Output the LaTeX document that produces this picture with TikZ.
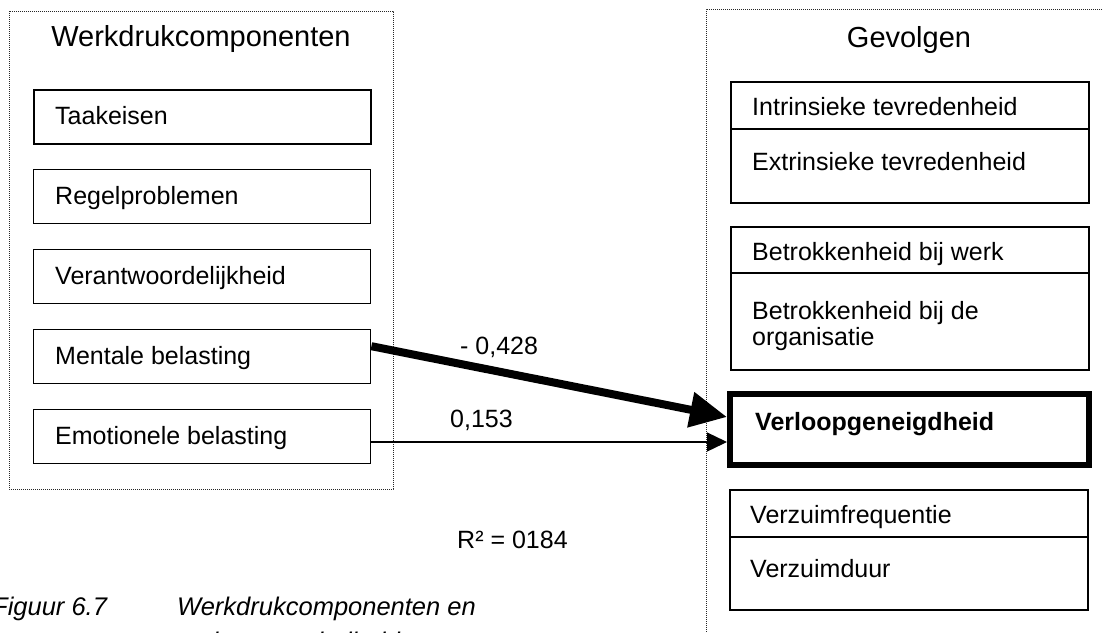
\documentclass[tikz,border=0pt]{standalone}
\usepackage{fontspec}
\setmainfont{Liberation Sans}
\usetikzlibrary{arrows.meta}
\begin{document}
\begin{tikzpicture}[x=1pt,y=-1pt,
  frame/.style={draw=black!85, line width=0.9pt, dash pattern=on 0.9pt off 1.1pt},
  box/.style={draw, line width=1.4pt, inner sep=0pt, anchor=north west},
  txt/.style={inner sep=0pt, anchor=base west, font=\fontsize{25}{30}\selectfont},
  head/.style={inner sep=0pt, anchor=base, font=\fontsize{29}{34}\selectfont},
  captionstyle/.style={inner sep=0pt, anchor=base west, font=\fontsize{25.5}{30}\selectfont\itshape},
  divider/.style={line width=1.4pt},
]
\useasboundingbox (0,0) rectangle (1103,632);
\clip (0,0) rectangle (1103,632);

% dotted group frames
\draw[frame] (9,11) rectangle (393,489);
\draw[frame] (1110,9) -- (706,9) -- (706,640);

% left group: workload components
\node[head] (lefttitle) at (201,46) {Werkdrukcomponenten};
\node[box, line width=2.4pt, minimum width=337pt, minimum height=54pt] (taak) at (33,89) {};
\node[box, minimum width=337pt, minimum height=54pt] (regel) at (33,169) {};
\node[box, minimum width=337pt, minimum height=54pt] (verant) at (33,249) {};
\node[box, minimum width=337pt, minimum height=54pt] (mentale) at (33,329) {};
\node[box, minimum width=337pt, minimum height=54pt] (emot) at (33,409) {};
\node[txt] (taakt) at (55,124) {Taakeisen};
\node[txt] (regelt) at (55,204) {Regelproblemen};
\node[txt] (verantt) at (55,284) {Verantwoordelijkheid};
\node[txt] (mentalet) at (55,364) {Mentale belasting};
\node[txt] (emott) at (55,444) {Emotionele belasting};

% right group: outcomes
\node[head] (righttitle) at (909,47) {Gevolgen};
\node[box, line width=2pt, minimum width=358pt, minimum height=121pt] (tevr) at (730,81) {};
\draw[divider] (730,129) -- (1088,129);
\node[txt] (intr) at (752,115) {Intrinsieke tevredenheid};
\node[txt] (extr) at (752,170) {Extrinsieke tevredenheid};

\node[box, line width=2pt, minimum width=358pt, minimum height=143pt] (betr) at (730,226) {};
\draw[divider] (730,273) -- (1088,273);
\node[txt] (betrw) at (752,260) {Betrokkenheid bij werk};
\node[txt] (betro) at (752,319) {Betrokkenheid bij de};
\node[txt] (betro2) at (752,345) {organisatie};

\node[box, line width=6pt, minimum width=359pt, minimum height=71pt] (verloop) at (727,391) {};
\node[txt, font=\fontsize{25}{30}\selectfont\bfseries] (verloopt) at (755,430) {Verloopgeneigdheid};

\node[box, line width=1.6pt, minimum width=358pt, minimum height=120pt] (verzuim) at (729,489) {};
\draw[divider] (729,537) -- (1087,537);
\node[txt] (vfreq) at (750,523) {Verzuimfrequentie};
\node[txt] (vduur) at (750,577) {Verzuimduur};

% paths
\draw[line width=8pt, -{Triangle[length=37pt,width=34pt]}]
  ([yshift=10.5pt]mentale.east) -- ([yshift=12.5pt]verloop.west);
\draw[line width=1.3pt, -{Triangle[length=20pt,width=19pt]}]
  ([yshift=-5.3pt]emot.east) -- ([yshift=-12.5pt]verloop.west);
\node[txt] (coef1) at (460,354) {- 0,428};
\node[txt] (coef2) at (450,427) {0,153};
\node[txt] (rsq) at (457,548) {R² = 0184};

% caption
\node[captionstyle] (capnum) at (-8,615) {Figuur 6.7};
\node[captionstyle] (captext) at (177,615) {Werkdrukcomponenten en};
\node[captionstyle] (captext2) at (177,650) {verloopgeneigdheid};
\end{tikzpicture}
\end{document}
